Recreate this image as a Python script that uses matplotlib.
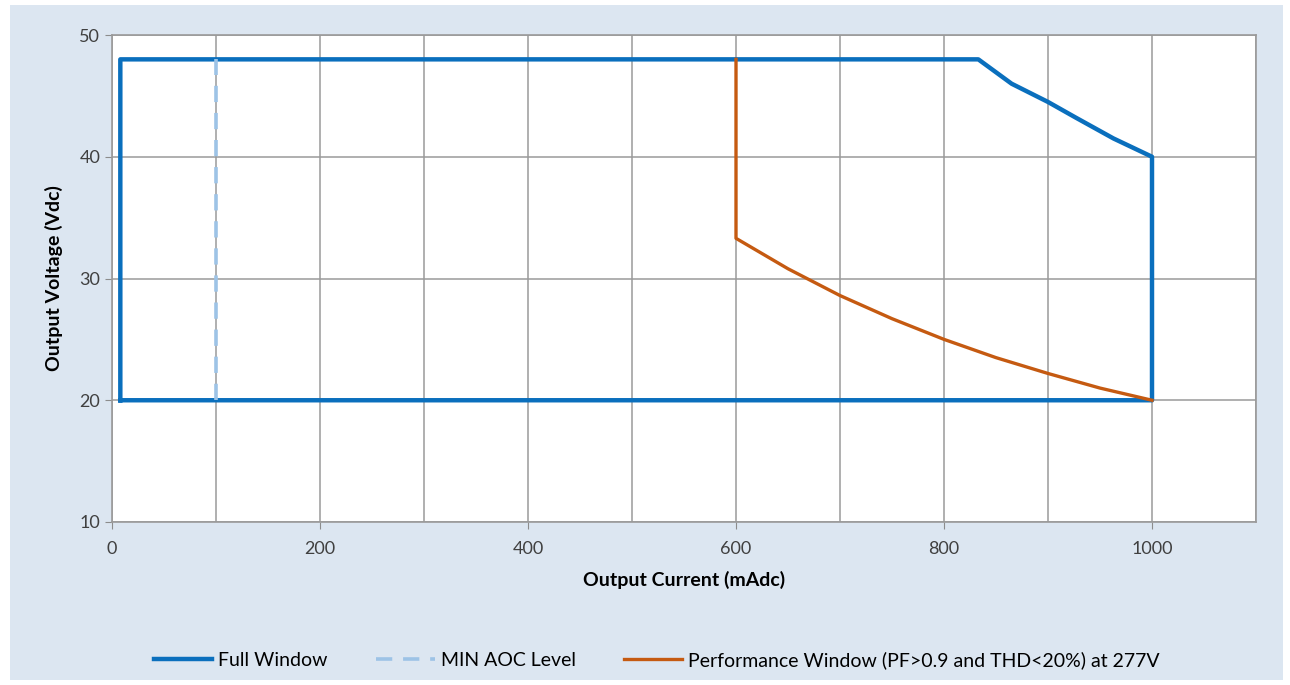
import matplotlib
matplotlib.use('Agg')
import matplotlib.pyplot as plt
from matplotlib.patches import Rectangle
from matplotlib.ticker import MultipleLocator

# values
full_i = [8, 8, 833, 865, 900, 927, 963, 1000, 1000, 8]
full_v = [20, 48, 48, 46, 44.5, 43.2, 41.5, 40, 20, 20]

aoc_i = [100, 100]
aoc_v = [20, 48]

perf_i = [600, 600, 650, 700, 750, 800, 850, 900, 950, 1000]
perf_v = [48, 33.3, 30.8, 28.6, 26.7, 25.0, 23.5, 22.2, 21.0, 20.0]

x_ticks = [0, 200, 400, 600, 800, 1000]
y_ticks = [10, 20, 30, 40, 50]

plt.rcParams['font.family'] = ['Lato', 'DejaVu Sans']

fig = plt.figure(figsize=(12.9, 6.85), dpi=100)
fig.patches.append(Rectangle((10 / 1290, 5 / 685), 1273 / 1290, 675 / 685,
                             transform=fig.transFigure, facecolor='#dce6f1',
                             edgecolor='none', zorder=-10))
ax = fig.add_axes([112 / 1290, 1 - 522 / 685, 1144 / 1290, 487 / 685])
ax.set_facecolor('white')

ax.plot(full_i, full_v, color='#0a6fbd', lw=3.2, label='Full Window', zorder=3)
ax.plot(aoc_i, aoc_v, color='#9dc3e6', lw=2.6, dashes=(4.5, 3), label='MIN AOC Level', zorder=3)
ax.plot(perf_i, perf_v, color='#c55a11', lw=2.4, label='Performance Window (PF>0.9 and THD<20%) at 277V', zorder=4)

ax.set_xlim(0, 1100)
ax.set_ylim(10, 50)
ax.set_xticks(x_ticks)
ax.set_yticks(y_ticks)
ax.xaxis.set_minor_locator(MultipleLocator(100))
ax.grid(True, which='both', axis='x', color='#9a9a9a', lw=1.1, zorder=0)
ax.grid(True, which='major', axis='y', color='#9a9a9a', lw=1.1, zorder=0)
ax.tick_params(which='minor', length=0)
ax.tick_params(which='major', length=5, color='#8c8c8c', labelsize=13, labelcolor='#404040')
ax.tick_params(axis='x', pad=9)
for s in ax.spines.values():
    s.set_color('#9a9a9a')
    s.set_linewidth(1.2)

ax.set_xlabel('Output Current (mAdc)', fontsize=14, fontweight='bold', labelpad=10)
ax.set_ylabel('Output Voltage (Vdc)', fontsize=14, fontweight='bold', labelpad=12)

fig.legend(loc='center', bbox_to_anchor=(657 / 1290, 1 - 660 / 685), ncol=3, frameon=False,
           fontsize=14, handlelength=3.0, columnspacing=2.5, handletextpad=0.3)

fig.savefig('out.png', dpi=100, facecolor='white')
